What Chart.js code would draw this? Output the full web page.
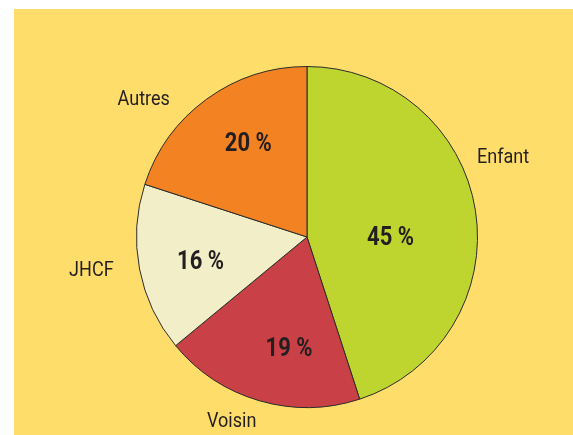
<!DOCTYPE html>
<html>
<head>
<meta charset="utf-8">
<script src="https://cdn.jsdelivr.net/npm/chart.js@4.4.0/dist/chart.umd.min.js"></script>
<style>
  html, body { margin: 0; padding: 0; background: #fff; }
  #box {
    position: absolute; left: 14px; top: 9px;
    width: 559px; height: 426px;
    background: #fedd6b;
  }
</style>
</head>
<body>
<div id="box"><canvas id="pie" width="559" height="426"></canvas></div>
<script>
// data
var categories = ["Enfant", "Voisin", "JHCF", "Autres"];
var shares = [45, 19, 16, 20];
var colors = ["#bed530", "#c94146", "#f2eec8", "#f38222"];

// where text sits: angle shift (deg) from slice middle, radius as fraction of R
var pctPlace = [[9, 0.49], [-7, 0.66], [-2, 0.64], [4, 0.65]];
var namePlace = [[-13, 1.24], [6, 1.17], [2, 1.28], [-14, 1.25]];

var FONT = 'Roboto, "DejaVu Sans", sans-serif';

// condensed look: squeeze text horizontally
function squeezed(ctx, txt, x, y, sx) {
  ctx.save();
  ctx.translate(x, y);
  ctx.scale(sx, 1);
  ctx.fillText(txt, 0, 0);
  ctx.restore();
}

var labelPlugin = {
  id: "sliceLabels",
  afterDatasetsDraw: function (chart) {
    var ctx = chart.ctx;
    var arcs = chart.getDatasetMeta(0).data;
    ctx.save();
    ctx.fillStyle = "#231f20";
    ctx.textAlign = "center";
    ctx.textBaseline = "middle";
    arcs.forEach(function (arc, i) {
      var p = arc.getProps(["x", "y", "startAngle", "endAngle", "outerRadius"], true);
      var mid = (p.startAngle + p.endAngle) / 2;
      var a1 = mid + pctPlace[i][0] * Math.PI / 180;
      var r1 = p.outerRadius * pctPlace[i][1];
      ctx.font = "bold 25px " + FONT;
      squeezed(ctx, shares[i] + " %", p.x + Math.cos(a1) * r1, p.y + Math.sin(a1) * r1 + 2, 0.88);
      var a2 = mid + namePlace[i][0] * Math.PI / 180;
      var r2 = p.outerRadius * namePlace[i][1];
      ctx.font = "21px " + FONT;
      squeezed(ctx, categories[i], p.x + Math.cos(a2) * r2, p.y + Math.sin(a2) * r2, 0.86);
    });
    ctx.restore();
  }
};

new Chart(document.getElementById("pie"), {
  type: "pie",
  data: {
    labels: categories,
    datasets: [{
      data: shares,
      backgroundColor: colors,
      borderColor: "#2b2b2b",
      borderWidth: 1
    }]
  },
  options: {
    responsive: false,
    animation: false,
    rotation: 0,
    layout: { padding: { left: 122, right: 95, top: 57, bottom: 27 } },
    plugins: {
      legend: { display: false },
      tooltip: { enabled: false }
    }
  },
  plugins: [labelPlugin]
});
</script>
</body>
</html>
